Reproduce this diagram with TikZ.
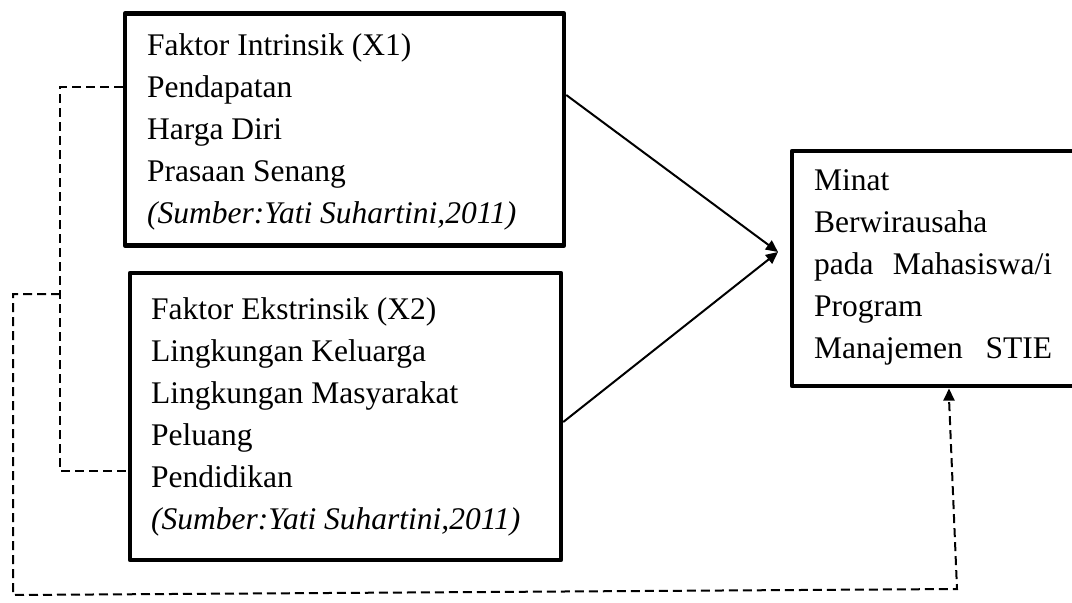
\documentclass[tikz,border=0pt]{standalone}
\usepackage{fontspec}
\setmainfont{Liberation Serif}
\usetikzlibrary{arrows.meta}
\begin{document}
\begin{tikzpicture}[x=1pt,y=-1pt,
  box/.style={draw,line width=4.5pt,rectangle,inner sep=0pt,line join=round},
  txt/.style={anchor=base west,inner sep=0pt,font=\fontsize{31.5}{42}\selectfont},
  solidarr/.style={line width=2pt,-{Triangle[length=12pt,width=11pt]}},
  dasharr/.style={line width=2pt,dash pattern=on 9pt off 5pt},
  tip/.style={-{Triangle[length=12pt,width=11pt]}}]
\clip (0,0) rectangle (1072,603);
\fill[white] (0,0) rectangle (1072,603);
% boxes
\node[box,minimum width=439pt,minimum height=232pt] (x1) at (344.5,129.5) {};
\node[box,minimum width=431pt,minimum height=287pt] (x2) at (345.5,416.5) {};
\node[box,minimum width=300pt,minimum height=235pt] (y) at (942,268.5) {};
% texts box 1
\node[txt] (a1) at (147,55) {Faktor Intrinsik (X1)};
\node[txt] (a2) at (147,97) {Pendapatan};
\node[txt] (a3) at (147,139) {Harga Diri};
\node[txt] (a4) at (147,181) {Prasaan Senang};
\node[txt] (a5) at (147,223) {\itshape (Sumber:Yati Suhartini,2011)};
% texts box 2
\node[txt] (b1) at (151,319) {Faktor Ekstrinsik (X2)};
\node[txt] (b2) at (151,361) {Lingkungan Keluarga};
\node[txt] (b3) at (151,403) {Lingkungan Masyarakat};
\node[txt] (b4) at (151,445) {Peluang};
\node[txt] (b5) at (151,487) {Pendidikan};
\node[txt] (b6) at (151,529) {\itshape (Sumber:Yati Suhartini,2011)};
% texts box 3
\node[txt] (c1) at (814,190) {Minat};
\node[txt] (c2) at (814,232) {Berwirausaha};
\node[txt] (c3) at (814,274) {\makebox[238pt][s]{pada\hfill Mahasiswa/i}};
\node[txt] (c4) at (814,316) {Program};
\node[txt] (c5) at (814,358) {\makebox[238pt][s]{Manajemen\hfill STIE}};
% solid connectors
\coordinate (m) at (778,252);
\draw[solidarr] (x1.east |- 0,95) -- (m);
\draw[solidarr] (x2.east |- 0,422) -- (m);
% dashed connectors
\coordinate (j) at (60,294);
\draw[dasharr] (x1.west |- 0,87) -- (60,87) -- (60,471) -- (x2.west |- 0,471);
\draw[dasharr] (j) -- (13,294) -- (13,595) -- (957,589) -- (949,398);
\draw[line width=2pt,tip] (949,399) -- (949,388.5);
\end{tikzpicture}
\end{document}
